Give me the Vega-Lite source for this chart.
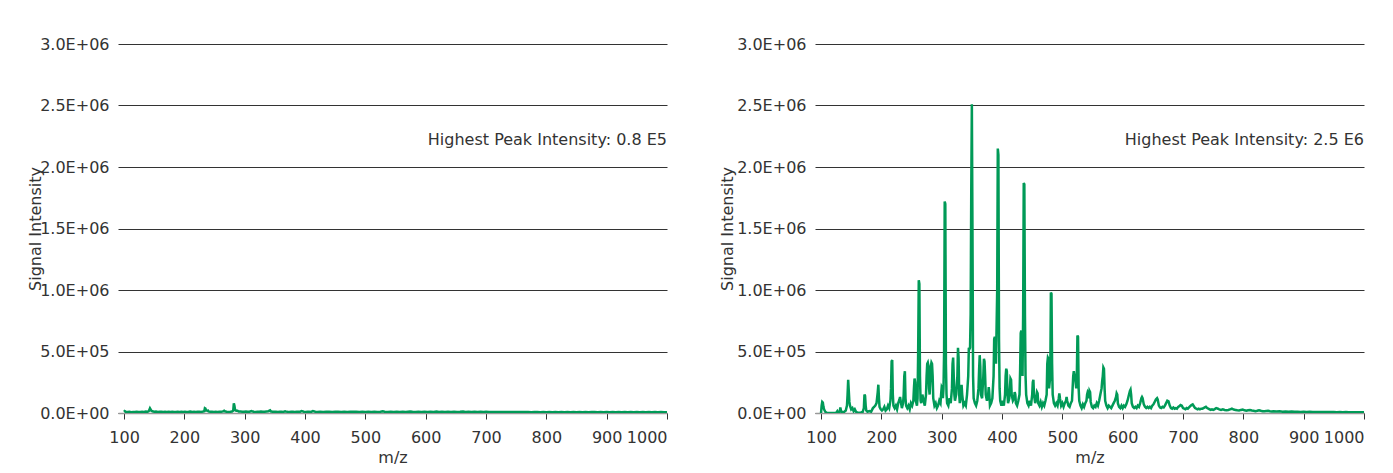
{
  "$schema": "https://vega.github.io/schema/vega-lite/v6.json",
  "background": "white",
  "padding": {"left": 27, "top": 36, "right": 5, "bottom": 0},
  "bounds": "flush",
  "spacing": 148,
  "config": {
    "font": "DejaVu Sans",
    "view": {"stroke": null},
    "axis": {"labelFontSize": 16, "titleFontSize": 16, "labelColor": "#333", "titleColor": "#333", "titleFontWeight": "normal"},
    "text": {"fontSize": 16, "color": "#333"}
  },
  "datasets": {
    "ctrl": [
      {"mz":100,"i":10000},{"mz":101,"i":15000},{"mz":103,"i":9000},{"mz":106,"i":8000},{"mz":109,"i":10000},{"mz":112,"i":7000},{"mz":115,"i":9000},{"mz":118,"i":8000},{"mz":121,"i":11000},{"mz":124,"i":9000},{"mz":127,"i":8000},{"mz":130,"i":10000},{"mz":133,"i":9000},{"mz":136,"i":12000},{"mz":139,"i":10000},{"mz":141,"i":15000},{"mz":143,"i":38000},{"mz":144,"i":30000},{"mz":145,"i":20000},{"mz":147,"i":14000},{"mz":150,"i":11000},{"mz":153,"i":12000},{"mz":156,"i":9000},{"mz":159,"i":11000},{"mz":162,"i":10000},{"mz":165,"i":8000},{"mz":168,"i":10000},{"mz":171,"i":9000},{"mz":174,"i":11000},{"mz":177,"i":8000},{"mz":180,"i":10000},{"mz":183,"i":9000},{"mz":186,"i":8000},{"mz":189,"i":11000},{"mz":192,"i":9000},{"mz":195,"i":10000},{"mz":198,"i":8000},{"mz":201,"i":11000},{"mz":204,"i":9000},{"mz":207,"i":10000},{"mz":210,"i":12000},{"mz":213,"i":9000},{"mz":216,"i":10000},{"mz":219,"i":8000},{"mz":222,"i":11000},{"mz":225,"i":10000},{"mz":228,"i":9000},{"mz":231,"i":12000},{"mz":233,"i":15000},{"mz":234,"i":38000},{"mz":235,"i":35000},{"mz":236,"i":20000},{"mz":238,"i":18000},{"mz":239,"i":20000},{"mz":240,"i":13000},{"mz":243,"i":10000},{"mz":246,"i":11000},{"mz":249,"i":9000},{"mz":252,"i":10000},{"mz":255,"i":9000},{"mz":258,"i":11000},{"mz":261,"i":10000},{"mz":264,"i":13000},{"mz":266,"i":18000},{"mz":267,"i":14000},{"mz":270,"i":10000},{"mz":273,"i":9000},{"mz":276,"i":10000},{"mz":279,"i":12000},{"mz":281,"i":20000},{"mz":282,"i":79000},{"mz":283,"i":60000},{"mz":284,"i":25000},{"mz":286,"i":19000},{"mz":288,"i":18000},{"mz":290,"i":12000},{"mz":293,"i":13000},{"mz":296,"i":11000},{"mz":299,"i":10000},{"mz":302,"i":12000},{"mz":305,"i":10000},{"mz":308,"i":11000},{"mz":311,"i":16000},{"mz":312,"i":14000},{"mz":315,"i":10000},{"mz":318,"i":9000},{"mz":321,"i":11000},{"mz":324,"i":10000},{"mz":327,"i":12000},{"mz":330,"i":11000},{"mz":333,"i":10000},{"mz":336,"i":12000},{"mz":339,"i":14000},{"mz":341,"i":20000},{"mz":342,"i":22000},{"mz":343,"i":14000},{"mz":346,"i":11000},{"mz":349,"i":10000},{"mz":352,"i":11000},{"mz":355,"i":9000},{"mz":358,"i":10000},{"mz":361,"i":11000},{"mz":364,"i":9000},{"mz":367,"i":13000},{"mz":368,"i":12000},{"mz":371,"i":10000},{"mz":374,"i":9000},{"mz":377,"i":11000},{"mz":380,"i":10000},{"mz":383,"i":9000},{"mz":386,"i":10000},{"mz":389,"i":11000},{"mz":392,"i":10000},{"mz":394,"i":16000},{"mz":395,"i":15000},{"mz":398,"i":10000},{"mz":401,"i":9000},{"mz":404,"i":11000},{"mz":407,"i":10000},{"mz":410,"i":9000},{"mz":413,"i":16000},{"mz":414,"i":15000},{"mz":417,"i":10000},{"mz":420,"i":9000},{"mz":425,"i":10000},{"mz":430,"i":9000},{"mz":435,"i":11000},{"mz":440,"i":10000},{"mz":445,"i":9000},{"mz":450,"i":10000},{"mz":455,"i":11000},{"mz":460,"i":9000},{"mz":465,"i":10000},{"mz":470,"i":9000},{"mz":475,"i":10000},{"mz":480,"i":11000},{"mz":485,"i":10000},{"mz":490,"i":9000},{"mz":495,"i":10000},{"mz":500,"i":9000},{"mz":505,"i":10000},{"mz":510,"i":9000},{"mz":515,"i":10000},{"mz":520,"i":9000},{"mz":525,"i":10000},{"mz":529,"i":14000},{"mz":532,"i":10000},{"mz":537,"i":9000},{"mz":542,"i":10000},{"mz":547,"i":9000},{"mz":552,"i":10000},{"mz":557,"i":9000},{"mz":562,"i":10000},{"mz":567,"i":9000},{"mz":574,"i":13000},{"mz":578,"i":10000},{"mz":583,"i":9000},{"mz":588,"i":10000},{"mz":593,"i":9000},{"mz":598,"i":10000},{"mz":603,"i":9000},{"mz":608,"i":10000},{"mz":613,"i":9000},{"mz":618,"i":12000},{"mz":622,"i":9000},{"mz":627,"i":10000},{"mz":632,"i":9000},{"mz":637,"i":10000},{"mz":642,"i":9000},{"mz":647,"i":10000},{"mz":652,"i":9000},{"mz":657,"i":10000},{"mz":662,"i":13000},{"mz":666,"i":9000},{"mz":671,"i":10000},{"mz":676,"i":9000},{"mz":681,"i":10000},{"mz":686,"i":9000},{"mz":691,"i":10000},{"mz":696,"i":9000},{"mz":700,"i":11000},{"mz":705,"i":9000},{"mz":710,"i":8000},{"mz":715,"i":9000},{"mz":720,"i":8000},{"mz":725,"i":9000},{"mz":730,"i":8000},{"mz":735,"i":9000},{"mz":740,"i":8000},{"mz":745,"i":9000},{"mz":750,"i":8000},{"mz":755,"i":9000},{"mz":760,"i":8000},{"mz":765,"i":9000},{"mz":770,"i":8000},{"mz":775,"i":7000},{"mz":780,"i":8000},{"mz":785,"i":9000},{"mz":790,"i":7000},{"mz":795,"i":8000},{"mz":800,"i":7000},{"mz":805,"i":8000},{"mz":810,"i":7000},{"mz":815,"i":8000},{"mz":820,"i":7000},{"mz":825,"i":8000},{"mz":830,"i":7000},{"mz":835,"i":8000},{"mz":840,"i":7000},{"mz":845,"i":8000},{"mz":850,"i":7000},{"mz":855,"i":8000},{"mz":860,"i":7000},{"mz":865,"i":8000},{"mz":870,"i":7000},{"mz":875,"i":8000},{"mz":880,"i":9000},{"mz":885,"i":7000},{"mz":890,"i":8000},{"mz":895,"i":7000},{"mz":900,"i":8000},{"mz":905,"i":7000},{"mz":910,"i":8000},{"mz":915,"i":7000},{"mz":920,"i":8000},{"mz":925,"i":7000},{"mz":930,"i":8000},{"mz":935,"i":7000},{"mz":940,"i":8000},{"mz":945,"i":7000},{"mz":950,"i":8000},{"mz":955,"i":7000},{"mz":960,"i":8000},{"mz":965,"i":7000},{"mz":970,"i":8000},{"mz":975,"i":7000},{"mz":980,"i":8000},{"mz":985,"i":7000},{"mz":990,"i":8000},{"mz":995,"i":7000},{"mz":1000,"i":7000}
    ],
    "sample": [
      {"mz":100,"i":0},{"mz":101,"i":60000},{"mz":102,"i":90000},{"mz":103,"i":85000},{"mz":104,"i":50000},{"mz":105,"i":30000},{"mz":107,"i":10000},{"mz":110,"i":0},{"mz":115,"i":0},{"mz":120,"i":0},{"mz":125,"i":0},{"mz":127,"i":15000},{"mz":128,"i":5000},{"mz":131,"i":10000},{"mz":132,"i":45000},{"mz":133,"i":20000},{"mz":135,"i":5000},{"mz":138,"i":8000},{"mz":141,"i":20000},{"mz":143,"i":60000},{"mz":144,"i":150000},{"mz":145,"i":270000},{"mz":146,"i":180000},{"mz":147,"i":90000},{"mz":148,"i":60000},{"mz":150,"i":30000},{"mz":152,"i":40000},{"mz":154,"i":15000},{"mz":156,"i":30000},{"mz":158,"i":10000},{"mz":160,"i":5000},{"mz":163,"i":3000},{"mz":166,"i":5000},{"mz":169,"i":8000},{"mz":171,"i":40000},{"mz":172,"i":150000},{"mz":173,"i":140000},{"mz":174,"i":60000},{"mz":175,"i":20000},{"mz":177,"i":10000},{"mz":180,"i":15000},{"mz":183,"i":10000},{"mz":186,"i":40000},{"mz":188,"i":50000},{"mz":190,"i":60000},{"mz":192,"i":80000},{"mz":194,"i":170000},{"mz":195,"i":230000},{"mz":196,"i":120000},{"mz":197,"i":50000},{"mz":199,"i":30000},{"mz":201,"i":20000},{"mz":203,"i":30000},{"mz":205,"i":50000},{"mz":207,"i":20000},{"mz":209,"i":30000},{"mz":211,"i":60000},{"mz":213,"i":40000},{"mz":215,"i":100000},{"mz":216,"i":200000},{"mz":217,"i":420000},{"mz":218,"i":430000},{"mz":219,"i":150000},{"mz":220,"i":60000},{"mz":222,"i":40000},{"mz":224,"i":60000},{"mz":226,"i":30000},{"mz":228,"i":80000},{"mz":230,"i":110000},{"mz":231,"i":130000},{"mz":232,"i":100000},{"mz":234,"i":40000},{"mz":236,"i":80000},{"mz":237,"i":150000},{"mz":238,"i":300000},{"mz":239,"i":340000},{"mz":240,"i":120000},{"mz":241,"i":60000},{"mz":243,"i":40000},{"mz":245,"i":60000},{"mz":247,"i":30000},{"mz":249,"i":80000},{"mz":251,"i":60000},{"mz":253,"i":100000},{"mz":254,"i":200000},{"mz":255,"i":280000},{"mz":256,"i":250000},{"mz":257,"i":100000},{"mz":259,"i":60000},{"mz":260,"i":120000},{"mz":261,"i":500000},{"mz":262,"i":1080000},{"mz":263,"i":1050000},{"mz":264,"i":300000},{"mz":265,"i":100000},{"mz":266,"i":80000},{"mz":268,"i":150000},{"mz":270,"i":100000},{"mz":272,"i":60000},{"mz":274,"i":150000},{"mz":275,"i":300000},{"mz":276,"i":400000},{"mz":277,"i":410000},{"mz":278,"i":380000},{"mz":279,"i":200000},{"mz":280,"i":150000},{"mz":281,"i":250000},{"mz":282,"i":380000},{"mz":283,"i":410000},{"mz":284,"i":400000},{"mz":285,"i":300000},{"mz":286,"i":120000},{"mz":288,"i":60000},{"mz":290,"i":80000},{"mz":292,"i":40000},{"mz":294,"i":60000},{"mz":296,"i":100000},{"mz":298,"i":80000},{"mz":299,"i":150000},{"mz":300,"i":210000},{"mz":301,"i":200000},{"mz":302,"i":120000},{"mz":303,"i":200000},{"mz":304,"i":500000},{"mz":305,"i":1720000},{"mz":306,"i":1700000},{"mz":307,"i":400000},{"mz":308,"i":150000},{"mz":309,"i":80000},{"mz":311,"i":60000},{"mz":313,"i":120000},{"mz":315,"i":80000},{"mz":317,"i":200000},{"mz":318,"i":400000},{"mz":319,"i":450000},{"mz":320,"i":300000},{"mz":321,"i":150000},{"mz":322,"i":100000},{"mz":324,"i":150000},{"mz":326,"i":300000},{"mz":327,"i":530000},{"mz":328,"i":450000},{"mz":329,"i":150000},{"mz":330,"i":80000},{"mz":332,"i":150000},{"mz":333,"i":230000},{"mz":334,"i":150000},{"mz":336,"i":60000},{"mz":338,"i":80000},{"mz":340,"i":60000},{"mz":342,"i":150000},{"mz":344,"i":300000},{"mz":345,"i":530000},{"mz":346,"i":520000},{"mz":347,"i":530000},{"mz":348,"i":800000},{"mz":349,"i":1800000},{"mz":350,"i":2510000},{"mz":351,"i":1500000},{"mz":352,"i":300000},{"mz":353,"i":120000},{"mz":355,"i":80000},{"mz":357,"i":60000},{"mz":359,"i":100000},{"mz":361,"i":200000},{"mz":362,"i":350000},{"mz":363,"i":470000},{"mz":364,"i":380000},{"mz":365,"i":150000},{"mz":367,"i":120000},{"mz":369,"i":300000},{"mz":370,"i":440000},{"mz":371,"i":420000},{"mz":372,"i":300000},{"mz":373,"i":150000},{"mz":375,"i":100000},{"mz":377,"i":150000},{"mz":378,"i":210000},{"mz":379,"i":150000},{"mz":380,"i":60000},{"mz":382,"i":80000},{"mz":384,"i":120000},{"mz":386,"i":300000},{"mz":387,"i":600000},{"mz":388,"i":620000},{"mz":389,"i":600000},{"mz":390,"i":400000},{"mz":392,"i":1000000},{"mz":393,"i":2150000},{"mz":394,"i":2100000},{"mz":395,"i":600000},{"mz":396,"i":200000},{"mz":397,"i":100000},{"mz":399,"i":60000},{"mz":401,"i":100000},{"mz":403,"i":60000},{"mz":405,"i":150000},{"mz":406,"i":300000},{"mz":407,"i":360000},{"mz":408,"i":340000},{"mz":409,"i":150000},{"mz":410,"i":80000},{"mz":412,"i":120000},{"mz":414,"i":280000},{"mz":415,"i":270000},{"mz":416,"i":150000},{"mz":418,"i":100000},{"mz":420,"i":120000},{"mz":421,"i":170000},{"mz":422,"i":150000},{"mz":423,"i":80000},{"mz":425,"i":60000},{"mz":427,"i":100000},{"mz":429,"i":150000},{"mz":430,"i":350000},{"mz":431,"i":650000},{"mz":432,"i":670000},{"mz":433,"i":600000},{"mz":434,"i":300000},{"mz":435,"i":800000},{"mz":436,"i":1870000},{"mz":437,"i":1860000},{"mz":438,"i":800000},{"mz":439,"i":300000},{"mz":440,"i":150000},{"mz":442,"i":80000},{"mz":444,"i":60000},{"mz":446,"i":100000},{"mz":448,"i":60000},{"mz":450,"i":150000},{"mz":451,"i":250000},{"mz":452,"i":270000},{"mz":453,"i":150000},{"mz":455,"i":80000},{"mz":457,"i":130000},{"mz":458,"i":170000},{"mz":459,"i":160000},{"mz":460,"i":80000},{"mz":462,"i":60000},{"mz":464,"i":90000},{"mz":466,"i":50000},{"mz":468,"i":80000},{"mz":470,"i":60000},{"mz":472,"i":100000},{"mz":474,"i":150000},{"mz":475,"i":400000},{"mz":476,"i":450000},{"mz":477,"i":440000},{"mz":478,"i":200000},{"mz":480,"i":300000},{"mz":481,"i":980000},{"mz":482,"i":970000},{"mz":483,"i":400000},{"mz":484,"i":150000},{"mz":486,"i":80000},{"mz":488,"i":60000},{"mz":490,"i":80000},{"mz":492,"i":60000},{"mz":494,"i":120000},{"mz":495,"i":160000},{"mz":496,"i":120000},{"mz":498,"i":60000},{"mz":500,"i":80000},{"mz":502,"i":50000},{"mz":504,"i":80000},{"mz":506,"i":100000},{"mz":507,"i":130000},{"mz":508,"i":100000},{"mz":510,"i":60000},{"mz":512,"i":50000},{"mz":514,"i":80000},{"mz":516,"i":100000},{"mz":517,"i":200000},{"mz":518,"i":300000},{"mz":519,"i":340000},{"mz":520,"i":310000},{"mz":521,"i":300000},{"mz":522,"i":250000},{"mz":523,"i":200000},{"mz":524,"i":300000},{"mz":525,"i":630000},{"mz":526,"i":620000},{"mz":527,"i":200000},{"mz":528,"i":100000},{"mz":530,"i":60000},{"mz":532,"i":40000},{"mz":534,"i":70000},{"mz":536,"i":50000},{"mz":538,"i":80000},{"mz":540,"i":100000},{"mz":541,"i":150000},{"mz":542,"i":170000},{"mz":543,"i":160000},{"mz":544,"i":120000},{"mz":545,"i":180000},{"mz":546,"i":170000},{"mz":547,"i":90000},{"mz":549,"i":50000},{"mz":551,"i":40000},{"mz":553,"i":60000},{"mz":555,"i":50000},{"mz":557,"i":80000},{"mz":559,"i":60000},{"mz":561,"i":100000},{"mz":563,"i":150000},{"mz":565,"i":200000},{"mz":566,"i":260000},{"mz":567,"i":300000},{"mz":568,"i":370000},{"mz":569,"i":360000},{"mz":570,"i":200000},{"mz":571,"i":100000},{"mz":573,"i":60000},{"mz":575,"i":40000},{"mz":577,"i":60000},{"mz":579,"i":50000},{"mz":581,"i":40000},{"mz":583,"i":60000},{"mz":585,"i":80000},{"mz":587,"i":100000},{"mz":589,"i":130000},{"mz":590,"i":160000},{"mz":591,"i":150000},{"mz":592,"i":80000},{"mz":594,"i":50000},{"mz":596,"i":40000},{"mz":598,"i":60000},{"mz":600,"i":40000},{"mz":602,"i":60000},{"mz":604,"i":50000},{"mz":606,"i":70000},{"mz":608,"i":100000},{"mz":610,"i":140000},{"mz":612,"i":180000},{"mz":613,"i":190000},{"mz":614,"i":150000},{"mz":615,"i":80000},{"mz":617,"i":50000},{"mz":619,"i":40000},{"mz":621,"i":50000},{"mz":623,"i":40000},{"mz":625,"i":60000},{"mz":627,"i":50000},{"mz":629,"i":80000},{"mz":631,"i":120000},{"mz":632,"i":130000},{"mz":633,"i":120000},{"mz":635,"i":70000},{"mz":637,"i":50000},{"mz":639,"i":40000},{"mz":641,"i":50000},{"mz":643,"i":40000},{"mz":645,"i":50000},{"mz":647,"i":40000},{"mz":649,"i":60000},{"mz":651,"i":70000},{"mz":653,"i":90000},{"mz":655,"i":110000},{"mz":657,"i":120000},{"mz":658,"i":110000},{"mz":660,"i":60000},{"mz":662,"i":45000},{"mz":664,"i":40000},{"mz":666,"i":50000},{"mz":668,"i":45000},{"mz":670,"i":60000},{"mz":672,"i":80000},{"mz":674,"i":100000},{"mz":676,"i":95000},{"mz":678,"i":60000},{"mz":680,"i":40000},{"mz":682,"i":35000},{"mz":684,"i":45000},{"mz":686,"i":35000},{"mz":688,"i":40000},{"mz":690,"i":35000},{"mz":692,"i":50000},{"mz":694,"i":55000},{"mz":696,"i":65000},{"mz":698,"i":60000},{"mz":700,"i":40000},{"mz":702,"i":35000},{"mz":704,"i":30000},{"mz":706,"i":40000},{"mz":708,"i":35000},{"mz":710,"i":45000},{"mz":712,"i":55000},{"mz":714,"i":65000},{"mz":716,"i":70000},{"mz":718,"i":55000},{"mz":720,"i":40000},{"mz":722,"i":35000},{"mz":724,"i":30000},{"mz":726,"i":35000},{"mz":728,"i":30000},{"mz":730,"i":35000},{"mz":732,"i":35000},{"mz":734,"i":40000},{"mz":736,"i":45000},{"mz":738,"i":50000},{"mz":740,"i":40000},{"mz":742,"i":35000},{"mz":744,"i":30000},{"mz":746,"i":25000},{"mz":748,"i":30000},{"mz":750,"i":25000},{"mz":752,"i":30000},{"mz":755,"i":40000},{"mz":758,"i":35000},{"mz":760,"i":30000},{"mz":763,"i":25000},{"mz":766,"i":30000},{"mz":769,"i":25000},{"mz":772,"i":22000},{"mz":775,"i":25000},{"mz":778,"i":30000},{"mz":781,"i":35000},{"mz":784,"i":28000},{"mz":787,"i":25000},{"mz":790,"i":22000},{"mz":793,"i":20000},{"mz":796,"i":25000},{"mz":799,"i":28000},{"mz":802,"i":22000},{"mz":805,"i":18000},{"mz":808,"i":22000},{"mz":811,"i":25000},{"mz":814,"i":20000},{"mz":817,"i":18000},{"mz":820,"i":15000},{"mz":823,"i":18000},{"mz":826,"i":22000},{"mz":829,"i":18000},{"mz":832,"i":15000},{"mz":835,"i":14000},{"mz":838,"i":16000},{"mz":841,"i":18000},{"mz":844,"i":14000},{"mz":847,"i":12000},{"mz":850,"i":14000},{"mz":855,"i":12000},{"mz":860,"i":14000},{"mz":865,"i":11000},{"mz":870,"i":13000},{"mz":875,"i":10000},{"mz":880,"i":12000},{"mz":885,"i":10000},{"mz":890,"i":11000},{"mz":895,"i":9000},{"mz":900,"i":10000},{"mz":905,"i":9000},{"mz":910,"i":10000},{"mz":915,"i":8000},{"mz":920,"i":9000},{"mz":925,"i":8000},{"mz":930,"i":9000},{"mz":935,"i":8000},{"mz":940,"i":9000},{"mz":945,"i":8000},{"mz":950,"i":8000},{"mz":955,"i":7000},{"mz":960,"i":8000},{"mz":965,"i":7000},{"mz":970,"i":8000},{"mz":975,"i":7000},{"mz":980,"i":7000},{"mz":985,"i":7000},{"mz":990,"i":6000},{"mz":995,"i":7000},{"mz":1000,"i":6000}
    ]
  },
  "hconcat": [
    {
      "width": 549,
      "height": 369,
      "layer": [
        {
          "data": {"name": "ctrl"},
          "mark": {"type": "line", "color": "#009a57", "strokeWidth": 2.5, "clip": true},
          "encoding": {
            "x": {"field": "mz", "type": "quantitative", "scale": {"domain": [90, 1000], "nice": false, "zero": false},
              "axis": {"values": [100,200,300,400,500,600,700,800,900,1000], "format": "d", "grid": false, "title": "m/z", "tickColor": "#333", "tickSize": 6, "domainColor": "#999", "domainWidth": 1.5, "labelPadding": 10, "titlePadding": 4}},
            "y": {"field": "i", "type": "quantitative", "scale": {"domain": [0, 3000000], "nice": false},
              "axis": {"values": [0,500000,1000000,1500000,2000000,2500000,3000000], "labelExpr": "replace(format(datum.value, '.1e'), 'e+', 'E+0')", "grid": true, "gridColor": "#333", "ticks": false, "tickSize": 0, "domain": false, "labelPadding": 9, "title": "Signal Intensity", "titleX": -83, "titleY": 184.5, "titleAngle": 270, "titleAlign": "center", "titleBaseline": "middle"}}
          }
        },
        {
          "data": {"values": [{"x": 1000, "y": 2220000, "label": "Highest Peak Intensity: 0.8 E5"}]},
          "mark": {"type": "text", "align": "right", "baseline": "middle"},
          "encoding": {
            "x": {"field": "x", "type": "quantitative"},
            "y": {"field": "y", "type": "quantitative"},
            "text": {"field": "label"}
          }
        }
      ]
    },
    {
      "width": 549,
      "height": 369,
      "layer": [
        {
          "data": {"name": "sample"},
          "mark": {"type": "line", "color": "#009a57", "strokeWidth": 2.5, "clip": true},
          "encoding": {
            "x": {"field": "mz", "type": "quantitative", "scale": {"domain": [90, 1000], "nice": false, "zero": false},
              "axis": {"values": [100,200,300,400,500,600,700,800,900,1000], "format": "d", "grid": false, "title": "m/z", "tickColor": "#333", "tickSize": 6, "domainColor": "#999", "domainWidth": 1.5, "labelPadding": 10, "titlePadding": 4}},
            "y": {"field": "i", "type": "quantitative", "scale": {"domain": [0, 3000000], "nice": false},
              "axis": {"values": [0,500000,1000000,1500000,2000000,2500000,3000000], "labelExpr": "replace(format(datum.value, '.1e'), 'e+', 'E+0')", "grid": true, "gridColor": "#333", "ticks": false, "tickSize": 0, "domain": false, "labelPadding": 9, "title": "Signal Intensity", "titleX": -88, "titleY": 184.5, "titleAngle": 270, "titleAlign": "center", "titleBaseline": "middle"}}
          }
        },
        {
          "data": {"values": [{"x": 1000, "y": 2220000, "label": "Highest Peak Intensity: 2.5 E6"}]},
          "mark": {"type": "text", "align": "right", "baseline": "middle"},
          "encoding": {
            "x": {"field": "x", "type": "quantitative"},
            "y": {"field": "y", "type": "quantitative"},
            "text": {"field": "label"}
          }
        }
      ]
    }
  ]
}
